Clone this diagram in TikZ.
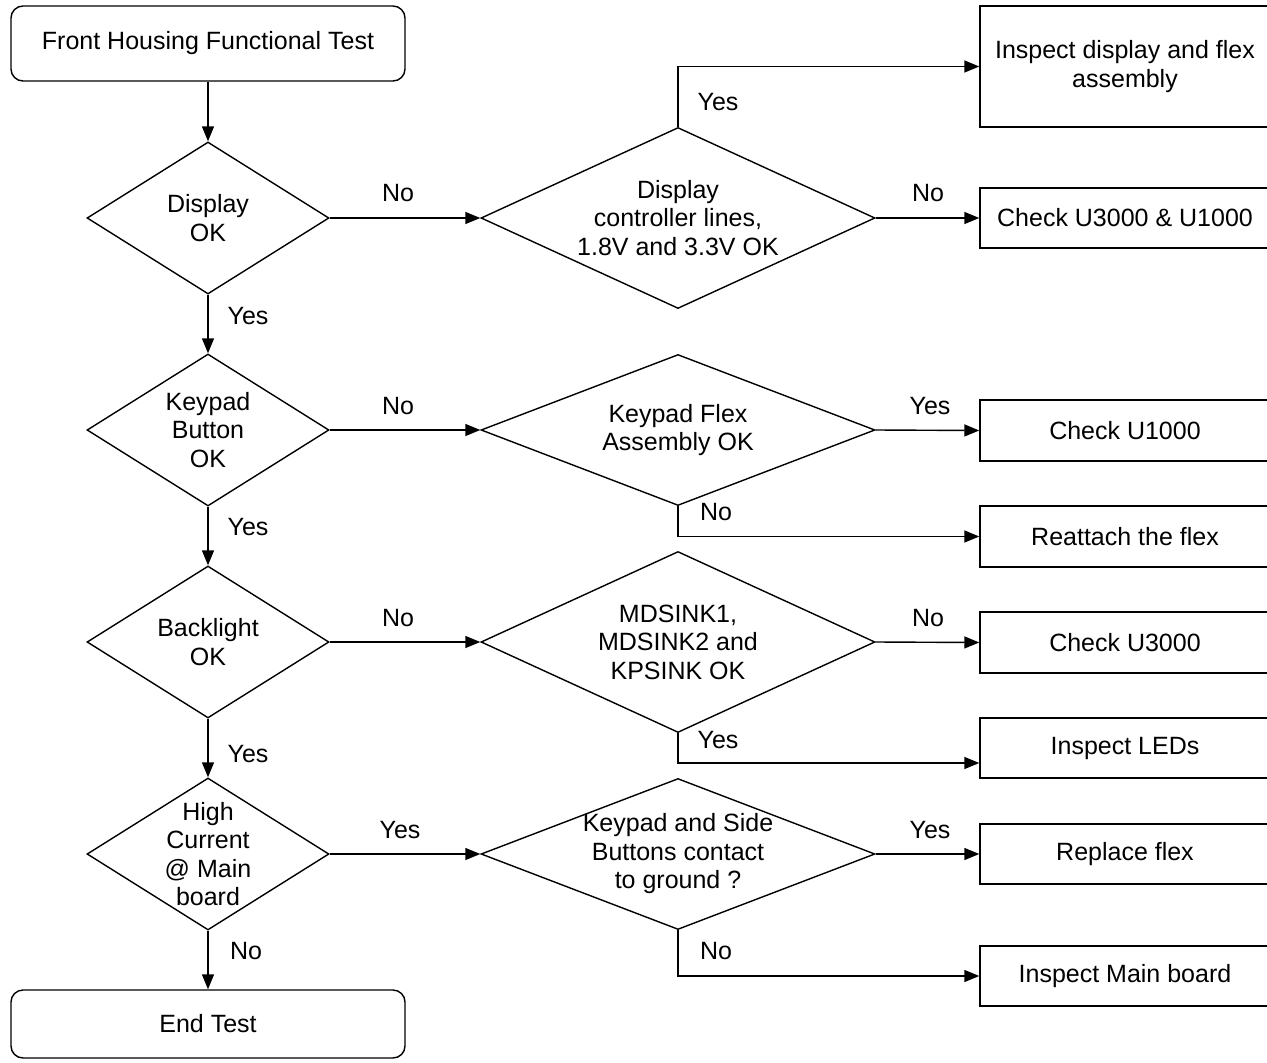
\documentclass[tikz,border=0pt]{standalone}
\usepackage{fontspec}
\setmainfont{Liberation Sans}
\usetikzlibrary{shapes.geometric,arrows.meta}
\begin{document}
\begin{tikzpicture}[x=1pt,y=-1pt,
  every node/.style={font=\fontsize{25}{28.5}\selectfont},
  arr/.style={line width=1.4pt,-{Triangle[length=15pt,width=12pt]}},
  dec/.style={draw,line width=1.4pt,shape=diamond,inner sep=-15pt,align=center},
  smalldec/.style={dec,minimum width=242pt,minimum height=152pt,aspect=1.59},
  bigdec/.style={dec,minimum width=394pt,minimum height=181pt,aspect=2.18},
  middec/.style={dec,minimum width=394pt,minimum height=151pt,aspect=2.6},
  box/.style={draw,line width=1.4pt,rectangle,inner sep=0pt,align=center,minimum width=290pt},
  term/.style={draw,line width=1.4pt,rectangle,rounded corners=12pt,inner sep=0pt,align=center,minimum width=394pt},
  lbl/.style={inner sep=0pt}]
\useasboundingbox (0,0) rectangle (1267,1063);

% left column
\node[term,minimum height=75pt] (start) at (208,43.5) {Front Housing Functional Test};
\node[smalldec] (d1) at (208,218) {Display\\OK};
\node[smalldec] (d2) at (208,430) {Keypad\\Button\\OK};
\node[smalldec] (d3) at (208,642) {Backlight\\OK};
\node[smalldec] (d4) at (208,854) {High\\Current\\@ Main\\board};
\node[term,minimum height=68pt] (end) at (208,1024) {End Test};

% middle column
\node[bigdec] (r1) at (678,218) {Display\\controller lines,\\1.8V and 3.3V OK};
\node[middec] (r2) at (678,430) {Keypad Flex\\Assembly OK};
\node[bigdec] (r3) at (678,642) {MDSINK1,\\MDSINK2 and\\KPSINK OK};
\node[middec] (r4) at (678,854) {Keypad and Side\\Buttons contact\\to ground ?};

% right column
\node[box,minimum height=121pt] (b1) at (1125,66.5) {Inspect display and flex\\assembly};
\node[box,minimum height=60pt] (b2) at (1125,218) {Check U3000 \& U1000};
\node[box,minimum height=61pt] (b3) at (1125,430.5) {Check U1000};
\node[box,minimum height=61pt] (b4) at (1125,536.5) {Reattach the flex};
\node[box,minimum height=61pt] (b5) at (1125,642.5) {Check U3000};
\node[box,minimum height=60pt] (b6) at (1125,748) {Inspect LEDs};
\node[box,minimum height=60pt] (b7) at (1125,854) {Replace flex};
\node[box,minimum height=60pt] (b8) at (1125,976) {Inspect Main board};

% connectors
\draw[arr] (start.south) -- (d1.north);
\draw[arr] (d1.south) -- (d2.north);
\draw[arr] (d2.south) -- (d3.north);
\draw[arr] (d3.south) -- (d4.north);
\draw[arr] (d4.south) -- (end.north);

\draw[arr] (d1.east) -- (r1.west);
\draw[arr] (d2.east) -- (r2.west);
\draw[arr] (d3.east) -- (r3.west);
\draw[arr] (d4.east) -- (r4.west);

\draw[arr] (r1.north) |- (b1.west);
\draw[arr] (r1.east) -- (b2.west);
\draw[arr] (r2.east) -- (b3.west);
\draw[arr] (r2.south) |- (b4.west);
\draw[arr] (r3.east) -- (b5.west);
\draw[arr] (r3.south) |- ([yshift=-15pt]b6.west);
\draw[arr] (r4.east) -- (b7.west);
\draw[arr] (r4.south) |- (b8.west);

% labels
\node[lbl] (l1) at (398,193) {No};
\node[lbl] (l2) at (718,102) {Yes};
\node[lbl] (l3) at (928,193) {No};
\node[lbl] (l4) at (248,316) {Yes};
\node[lbl] (l5) at (398,406) {No};
\node[lbl] (l6) at (930,406) {Yes};
\node[lbl] (l7) at (716,512) {No};
\node[lbl] (l8) at (248,527) {Yes};
\node[lbl] (l9) at (398,618) {No};
\node[lbl] (l10) at (928,618) {No};
\node[lbl] (l11) at (718,740) {Yes};
\node[lbl] (l12) at (248,754) {Yes};
\node[lbl] (l13) at (400,830) {Yes};
\node[lbl] (l14) at (930,830) {Yes};
\node[lbl] (l15) at (716,951) {No};
\node[lbl] (l16) at (246,951) {No};
\end{tikzpicture}
\end{document}
